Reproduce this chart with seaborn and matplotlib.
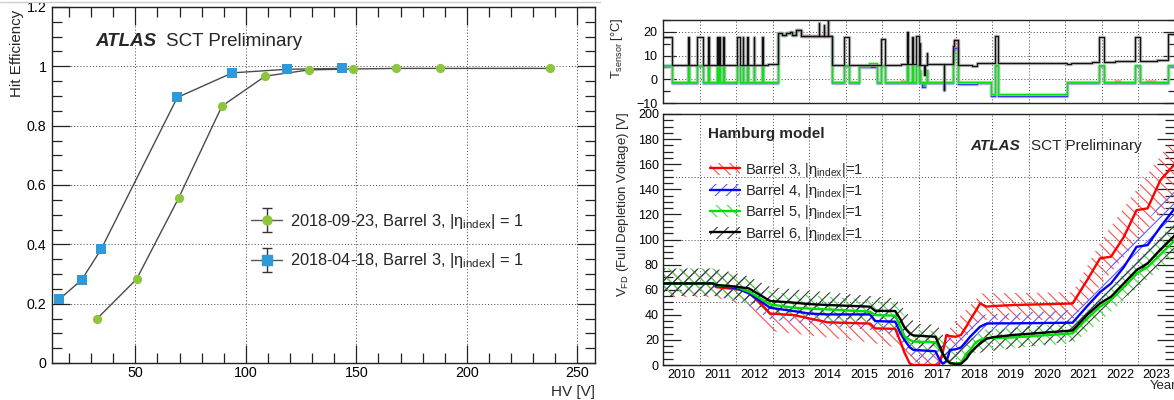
import numpy as np
import pandas as pd
import matplotlib
matplotlib.use("Agg")
import matplotlib.pyplot as plt
import seaborn as sns
from matplotlib.lines import Line2D
from matplotlib.patches import Patch
from matplotlib.container import ErrorbarContainer
from matplotlib.legend_handler import HandlerErrorbar
from matplotlib.ticker import MultipleLocator, FixedLocator, FuncFormatter

# ---------------- hit efficiency versus bias voltage ----------------
hv_sep = [32.5, 50.6, 69.6, 89.2, 108.8, 128.6, 148.4, 168.1, 188.0, 237.5]
eff_sep = [0.148, 0.283, 0.556, 0.866, 0.967, 0.988, 0.991, 0.993, 0.993, 0.993]
hv_apr = [15.6, 25.7, 34.5, 69.0, 93.9, 118.5, 143.4]
eff_apr = [0.215, 0.280, 0.383, 0.895, 0.978, 0.990, 0.993]
label_sep = "2018-09-23, Barrel 3, |η$_{\\mathrm{index}}$| = 1"
label_apr = "2018-04-18, Barrel 3, |η$_{\\mathrm{index}}$| = 1"

# ---------------- sensor temperature history (step series) ----------------
temp_time = [
    2010.00, 2010.255, 2010.69, 2010.70, 2010.94, 2011.10, 2011.24, 2011.25, 2011.49, 2011.50,
    2011.54, 2011.55, 2011.65, 2011.66, 2012.02, 2012.11, 2012.18, 2012.19, 2012.31, 2012.32,
    2012.49, 2012.50, 2012.72, 2012.73, 2012.88, 2013.15, 2013.25, 2013.35, 2013.48, 2013.52,
    2013.65, 2013.76, 2014.26, 2014.27, 2014.39, 2014.40, 2014.50, 2014.51, 2014.62, 2014.94,
    2015.08, 2015.37, 2015.62, 2015.85, 2015.96, 2016.08, 2016.50, 2016.68, 2016.69, 2016.82,
    2016.83, 2016.92, 2016.99, 2017.03, 2017.04, 2017.09, 2017.10, 2017.15, 2017.16, 2017.22,
    2017.23, 2017.67, 2017.68, 2017.92, 2017.97, 2018.07, 2018.45, 2018.58, 2018.97, 2019.09,
    2019.17, 2021.04, 2021.16, 2021.73, 2021.91, 2022.05, 2022.37, 2022.50, 2022.91, 2023.03,
    2023.20, 2023.45, 2023.51, 2023.82, 2024.10]
temp_b6 = [
    17.7, 6.0, 18.0, 6.0, 18.0, 6.0, 18.0, 6.0, 18.0, 6.0,
    18.0, 6.0, 18.0, 6.0, 18.0, 6.0, 18.0, 6.0, 18.0, 6.0,
    18.0, 6.0, 18.0, 6.0, 6.5, 19.4, 18.7, 19.4, 20.0, 18.7,
    20.6, 18.2, 23.9, 18.2, 23.1, 18.2, 25.2, 18.2, 6.0, 18.0,
    6.0, 6.0, 6.0, 6.0, 16.9, 6.0, 6.3, 20.0, 6.3, 18.0,
    6.3, 18.3, 6.0, 15.5, 6.0, 6.0, 6.0, 2.0, 6.0, 11.0,
    6.3, -4.5, 6.3, 14.0, 16.6, 6.2, 5.6, 7.0, 7.0, 18.3,
    7.0, 6.4, 7.0, 7.4, 18.0, 7.2, 7.7, 7.7, 18.0, 7.7,
    7.7, 7.7, 8.0, 19.0, 19.0]
temp_b5 = [
    6.0, -1.0, 6.0, -1.0, 6.0, -1.0, 6.0, -1.0, 6.0, -1.0,
    6.0, -1.0, 6.0, -1.0, 6.0, -1.0, 6.0, -1.0, 6.0, -1.0,
    6.0, -1.0, 6.0, -1.0, -1.0, 19.4, 18.7, 19.4, 20.0, 18.7,
    20.6, 18.2, 18.2, 18.2, 18.2, 18.2, 18.2, 18.2, -1.0, 6.0,
    -1.0, 5.7, 6.9, -1.0, 6.0, -1.0, -1.0, 6.0, -1.0, 6.0,
    -1.0, 6.0, -1.0, 4.0, -1.0, -1.0, -1.0, -2.5, -1.0, 4.0,
    -1.0, -1.0, -1.0, 6.0, 11.0, -1.0, -1.0, -1.0, -6.3, 6.0,
    -6.3, -1.0, -1.0, -1.0, 6.0, -1.0, -1.0, -1.0, 6.0, -1.0,
    -1.0, -1.0, -1.0, 6.0, 6.0]
temp_b4 = [
    5.5, -1.7, 5.5, -1.7, 5.5, -1.7, 5.5, -1.7, 5.5, -1.7,
    5.5, -1.7, 5.5, -1.7, 5.5, -1.7, 5.5, -1.7, 5.5, -1.7,
    5.5, -1.7, 5.5, -1.7, -1.7, 19.4, 18.7, 19.4, 20.0, 18.7,
    20.6, 18.2, 18.2, 18.2, 18.2, 18.2, 18.2, 18.2, -1.7, 5.5,
    -1.7, 5.2, 5.2, -1.7, 5.5, -1.7, -1.7, 5.5, -1.7, 5.5,
    -1.7, 5.5, -1.7, 3.5, -1.7, -3.2, -1.7, -3.2, -1.7, 3.5,
    -1.7, -4.6, -1.7, 8.0, 13.0, -2.0, -2.0, -1.7, -7.0, 5.5,
    -7.0, -1.7, -1.7, -1.7, 5.5, -1.7, -1.7, -1.7, 5.5, -1.7,
    -1.7, -1.7, -1.7, 5.5, 5.5]
temp_b3 = [
    5.8, -1.3, 5.8, -1.3, 5.8, -1.3, 5.8, -1.3, 5.8, -1.3,
    5.8, -1.3, 5.8, -1.3, 5.8, -1.3, 5.8, -1.3, 5.8, -1.3,
    5.8, -1.3, 5.8, -1.3, -1.3, 19.4, 18.7, 19.4, 20.0, 18.7,
    20.6, 18.2, 18.2, 18.2, 18.2, 18.2, 18.2, 18.2, -1.3, 5.8,
    -1.3, 5.4, 5.4, -1.3, 5.8, -1.3, -0.7, 5.8, -1.3, 5.8,
    -1.3, 5.8, -1.3, 3.8, -1.3, -1.3, -1.3, -3.0, -1.3, 3.8,
    -1.3, -1.3, -1.3, 12.0, 16.5, -1.3, -1.3, -1.3, -6.6, 5.8,
    -6.6, -1.3, -1.3, -1.3, 5.8, -1.3, -0.6, -1.3, 5.8, -1.3,
    -0.6, -1.3, -1.3, 5.8, 5.8]

# ---------------- full depletion voltage, Hamburg model ----------------
vfd_time = [2010.0, 2011.37, 2011.45, 2012.0, 2012.35, 2012.93, 2013.57, 2014.0, 2014.5, 2015.66,
            2015.8, 2016.35, 2016.5, 2016.6, 2016.75, 2016.85, 2017.45, 2017.55, 2017.65, 2017.75,
            2017.85, 2018.0, 2018.15, 2018.3, 2018.4, 2018.55, 2018.67, 2018.85, 2019.05, 2019.6,
            2021.2, 2021.6, 2021.95, 2022.25, 2022.6, 2022.95, 2023.25, 2023.6, 2024.05]
vfd_b3 = [65, 65, 62, 60.5, 58.5, 41, 39.8, 37.1, 34, 33,
          29.2, 28.8, 18, 10, 1, 0, 0, 0.5, 10, 24,
          23, 22.5, 24, 31, 36, 43, 49, 46.5, 47, 47.8,
          49, 67.7, 85, 86.3, 102, 123.4, 124.8, 147.3, 162]
vfd_b4 = [65, 65, 63, 61.5, 57, 45.6, 43, 41, 40.3, 40.3,
          35, 34.5, 25, 20, 14, 12, 11, 5, 1, 3,
          12, 12.5, 14, 19, 22.6, 27, 30.5, 33, 33.2, 33.2,
          33.7, 47, 58, 65, 78, 94.2, 95.5, 110, 127]
vfd_b5 = [65, 65, 63.5, 62.3, 58.4, 48.3, 45.6, 45, 44.3, 42.5,
          39.8, 39.3, 30, 23, 20, 18.6, 18.2, 14, 9.3, 4,
          1.3, 1.3, 1.5, 9.3, 12, 18, 20, 21.5, 21.5, 22,
          25.2, 37, 46.5, 52, 62, 73, 78, 88, 101]
vfd_b6 = [65, 65, 63.8, 62.4, 61, 51, 49.7, 48.5, 47.8, 46.5,
          43.2, 43, 36, 30, 25, 23.5, 22.5, 16, 9, 4,
          1.5, 0.8, 1.0, 5, 9.3, 14, 17, 21, 22.3, 24,
          27.5, 40, 49.1, 54.4, 65, 75.7, 81, 92, 105]

band_time = [2010.0, 2011.4, 2012.3, 2012.95, 2015.65, 2016.35, 2016.9, 2017.5, 2017.9, 2018.7,
             2021.2, 2022.0, 2023.0, 2024.05]
band_b3_lo = [54, 54, 47, 27, 18, 14, 0, 0, 10, 36, 36, 65, 100, 135]
band_b3_hi = [76, 76, 68, 47, 40, 36, 14, 12, 32, 57, 58, 100, 142, 185]
band_b4_lo = [55, 55, 48, 36, 28, 24, 2, 0, 3, 22, 26, 46, 78, 108]
band_b4_hi = [76, 76, 68, 55, 48, 44, 22, 20, 22, 40, 44, 70, 106, 145]
band_b5_lo = [55, 55, 49, 39, 32, 29, 10, 8, 0, 12, 17, 36, 62, 88]
band_b5_hi = [77, 77, 69, 58, 52, 49, 28, 27, 10, 28, 33, 55, 85, 116]
band_b6_lo = [55, 55, 51, 42, 35, 33, 14, 13, 0, 10, 19, 38, 63, 90]
band_b6_hi = [77, 77, 71, 62, 55, 53, 33, 32, 10, 26, 36, 60, 88, 120]

barrel_labels = ["Barrel 3, |η$_{\\mathrm{index}}$|=1", "Barrel 4, |η$_{\\mathrm{index}}$|=1",
                 "Barrel 5, |η$_{\\mathrm{index}}$|=1", "Barrel 6, |η$_{\\mathrm{index}}$|=1"]
years = list(range(2010, 2024))

# ---------------- style ----------------
sns.set_theme(style="ticks")
plt.rcParams["font.family"] = ["Liberation Sans", "DejaVu Sans"]
plt.rcParams["mathtext.fontset"] = "custom"
plt.rcParams["mathtext.rm"] = "Liberation Sans"
plt.rcParams["mathtext.it"] = "Liberation Sans:italic"
plt.rcParams["mathtext.bf"] = "Liberation Sans:bold"
plt.rcParams["hatch.linewidth"] = 0.8

W, H = 1174, 400
fig = plt.figure(figsize=(W / 100, H / 100), dpi=100)
fig.patch.set_facecolor("white")


def rect(x0, y0, x1, y1):
    return [x0 / W, 1 - y1 / H, (x1 - x0) / W, (y1 - y0) / H]


def fpos(x, y):
    return x / W, 1 - y / H


GRID = dict(color="#444444", ls=(0, (1, 2.2)), lw=0.7)
FRAME = "#222222"

c_green = "#8cc63f"
c_blue = "#2f9ad6"

# ======================= left panel =======================
ax1 = fig.add_axes(rect(52, 7, 595, 363))
df_sep = pd.DataFrame({"hv": hv_sep, "eff": eff_sep})
df_apr = pd.DataFrame({"hv": hv_apr, "eff": eff_apr})
for df, col, mk in [(df_sep, c_green, "o"), (df_apr, c_blue, "s")]:
    sns.lineplot(data=df, x="hv", y="eff", ax=ax1, color="#4a4a4a", lw=1.0,
                 estimator=None, sort=False, zorder=2)
    sns.scatterplot(data=df, x="hv", y="eff", ax=ax1, color=col, marker=mk, s=44,
                    linewidth=0, zorder=3)

ax1.set_xlim(12.3, 258)
ax1.set_ylim(0, 1.2)
ax1.xaxis.set_major_locator(MultipleLocator(50))
ax1.xaxis.set_minor_locator(MultipleLocator(10))
ax1.yaxis.set_major_locator(MultipleLocator(0.2))
ax1.yaxis.set_minor_locator(MultipleLocator(0.05))
ax1.yaxis.set_major_formatter(FuncFormatter(lambda v, p: f"{v:g}"))
ax1.grid(True, which="major", **GRID)
ax1.tick_params(which="both", direction="in", top=True, right=True, color=FRAME,
                labelsize=10.3, labelcolor="black")
ax1.tick_params(which="major", length=13, width=0.9)
ax1.tick_params(which="minor", length=7, width=0.9)
ax1.tick_params(axis="x", pad=2)
ax1.tick_params(axis="y", pad=4)
ax1.set_xlabel("")
ax1.set_ylabel("")
for s in ax1.spines.values():
    s.set_color(FRAME)
    s.set_linewidth(1.0)

fig.text(*fpos(17, 10), "Hit Efficiency", rotation=90, ha="center", va="top", fontsize=10.9)
fig.text(*fpos(595, 392), "HV [V]", ha="right", va="center", fontsize=11)
fig.text(*fpos(95, 42), "ATLAS", ha="left", va="center", fontsize=13.5,
         fontweight="bold", fontstyle="italic")
fig.text(*fpos(166, 42), "SCT Preliminary", ha="left", va="center", fontsize=13.5)

eb_sep = ax1.errorbar([np.nan], [np.nan], yerr=[[0.02], [0.02]], fmt="-o", color="#555555",
                      mfc=c_green, mec=c_green, ms=6.5, ecolor="#333333", elinewidth=1.0,
                      capsize=3.5, lw=1.0)
eb_apr = ax1.errorbar([np.nan], [np.nan], yerr=[[0.02], [0.02]], fmt="-s", color="#555555",
                      mfc=c_blue, mec=c_blue, ms=6.5, ecolor="#333333", elinewidth=1.0,
                      capsize=3.5, lw=1.0)
ax1.legend([eb_sep, eb_apr], [label_sep, label_apr], loc="upper left",
           bbox_to_anchor=((251 - 52) / 543, (363 - 212) / 356), frameon=False,
           fontsize=11.8, handlelength=1.9, handletextpad=0.45, labelspacing=1.25,
           borderpad=0, borderaxespad=0,
           handler_map={ErrorbarContainer: HandlerErrorbar(xerr_size=0.5, yerr_size=0.73)})

fig.add_artist(Line2D([0, 600 / W], [1 - 1.5 / H] * 2, color="#cfcfcf", lw=1.0))

# ======================= right panel: temperature =======================
axT = fig.add_axes(rect(663, 20, 1175, 103))
temp_series = [(temp_b3, "#ff2020", "#ff9090"), (temp_b4, "#2a2aff", "#9090ff"),
               (temp_b5, "#10e010", "#90f090"), (temp_b6, "#111111", "#8a8a8a")]
for vals, col, halo in temp_series:
    df = pd.DataFrame({"t": temp_time, "T": vals})
    sns.lineplot(data=df, x="t", y="T", ax=axT, color=halo, lw=2.4, alpha=0.6,
                 estimator=None, sort=False, drawstyle="steps-post")
    sns.lineplot(data=df, x="t", y="T", ax=axT, color=col, lw=0.9,
                 estimator=None, sort=False, drawstyle="steps-post")
axT.set_xlim(2010, 2024.0)
axT.set_ylim(-10, 25)
axT.xaxis.set_major_locator(FixedLocator(years[1:]))
axT.set_xticklabels([])
axT.yaxis.set_major_locator(FixedLocator([-10, 0, 10, 20]))
axT.yaxis.set_minor_locator(MultipleLocator(5))
axT.grid(True, which="major", **GRID)
axT.tick_params(which="both", direction="in", right=True, color=FRAME, labelsize=9,
                labelcolor="black")
axT.tick_params(axis="x", which="both", length=0)
axT.tick_params(axis="y", which="major", length=9, width=0.9, pad=4)
axT.tick_params(axis="y", which="minor", length=5, width=0.9)
axT.set_xlabel("")
axT.set_ylabel("")
for s in axT.spines.values():
    s.set_color(FRAME)
    s.set_linewidth(1.0)
fig.text(*fpos(617, 17), "T$_{\\mathrm{sensor}}$ [°C]", rotation=90, ha="center", va="top",
         fontsize=9.3)

# ======================= right panel: depletion voltage =======================
axV = fig.add_axes(rect(663, 114, 1175, 365))
bands = [(band_b3_lo, band_b3_hi, "#ff5050", "\\\\\\"),
         (band_b4_lo, band_b4_hi, "#5a5aff", "///"),
         (band_b5_lo, band_b5_hi, "#40e040", "\\\\\\"),
         (band_b6_lo, band_b6_hi, "#3a3a3a", "///")]
for lo, hi, col, hat in bands:
    axV.fill_between(band_time, lo, hi, facecolor="none", edgecolor=col, hatch=hat,
                     linewidth=0, zorder=1)
line_cols = ["#ff0000", "#0000ff", "#00dd00", "#000000"]
for vals, col in zip([vfd_b3, vfd_b4, vfd_b5, vfd_b6], line_cols):
    df = pd.DataFrame({"t": vfd_time, "V": vals})
    sns.lineplot(data=df, x="t", y="V", ax=axV, color=col, lw=1.7,
                 estimator=None, sort=False, zorder=3)
axV.set_xlim(2010, 2024.0)
axV.set_ylim(0, 200)
axV.xaxis.set_major_locator(FixedLocator([y + 0.5 for y in years]))
axV.set_xticklabels([str(y) for y in years])
axV.xaxis.set_minor_locator(FixedLocator(years[1:]))
axV.yaxis.set_major_locator(MultipleLocator(20))
axV.yaxis.set_minor_locator(MultipleLocator(5))
axV.grid(True, which="minor", axis="x", **GRID)
for g in (50, 100, 150):
    axV.axhline(g, zorder=0.5, **GRID)
axV.tick_params(which="both", direction="in", right=True, color=FRAME, labelsize=9,
                labelcolor="black")
axV.tick_params(axis="x", which="both", length=0, pad=3)
axV.tick_params(axis="y", which="major", length=13, width=0.9, pad=3)
axV.tick_params(axis="y", which="minor", length=7, width=0.9)
axV.set_xlabel("")
axV.set_ylabel("")
for s in axV.spines.values():
    s.set_color(FRAME)
    s.set_linewidth(1.0)

fig.text(*fpos(623, 112), "V$_{\\mathrm{FD}}$ (Full Depletion Voltage) [V]", rotation=90,
         ha="center", va="top", fontsize=9.5)
fig.text(*fpos(1176, 386), "Year", ha="right", va="center", fontsize=9.5)
fig.text(*fpos(708, 134), "Hamburg model", ha="left", va="center", fontsize=11,
         fontweight="bold")
fig.text(*fpos(970, 146), "ATLAS", ha="left", va="center", fontsize=11,
         fontweight="bold", fontstyle="italic")
fig.text(*fpos(1031, 146), "SCT Preliminary", ha="left", va="center", fontsize=11)

handles = []
for (lo, hi, hcol, hat), lcol in zip(bands, line_cols):
    handles.append((Patch(facecolor="none", edgecolor=hcol, hatch=hat, linewidth=0),
                    Line2D([], [], color=lcol, lw=1.7)))
axV.legend(handles, barrel_labels, loc="upper left",
           bbox_to_anchor=((710 - 663) / 512, (365 - 161) / 251), frameon=False,
           fontsize=10.5, handlelength=2.05, handleheight=0.9, handletextpad=0.35,
           labelspacing=0.22, borderpad=0, borderaxespad=0)

fig.savefig("out.png", dpi=100, facecolor="white")
